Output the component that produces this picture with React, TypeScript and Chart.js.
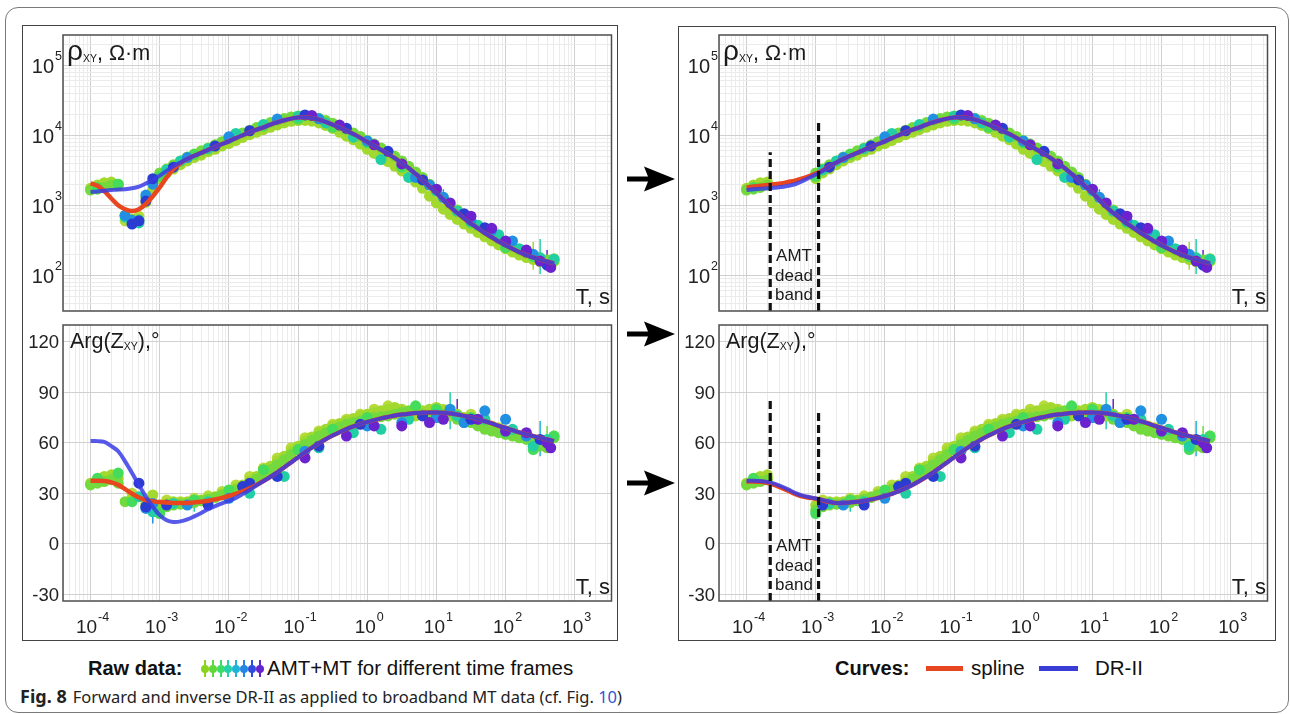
import React, { useEffect, useRef } from "react";
import { Chart, registerables } from "chart.js";
Chart.register(...registerables);

// ---------------- data ----------------
const rawPeriods = [
  1.0e-4, 1.26e-4, 1.58e-4, 2.0e-4, 2.51e-4, 3.16e-4, 3.98e-4, 5.01e-4, 6.31e-4, 7.94e-4,
  1.0e-3, 1.26e-3, 1.58e-3, 2.0e-3, 2.51e-3, 3.16e-3, 3.98e-3, 5.01e-3, 6.31e-3, 7.94e-3,
  1.0e-2, 1.26e-2, 1.58e-2, 2.0e-2, 2.51e-2, 3.16e-2, 3.98e-2, 5.01e-2, 6.31e-2, 7.94e-2,
  0.1, 0.126, 0.158, 0.2, 0.251, 0.316, 0.398, 0.501, 0.631, 0.794,
  1, 1.26, 1.58, 2, 2.51, 3.16, 3.98, 5.01, 6.31, 7.94,
  10, 12.6, 15.8, 20, 25.1, 31.6, 39.8, 50.1, 63.1, 79.4,
  100, 126, 158, 200, 251, 316, 398, 501,
];

// fitted curves (shared main part)
const mainRho = [
  1700, 1750, 1800, 1850, 1900, 1950, 2050, 2150, 2300, 2500,
  2750, 3100, 3600, 4100, 4600, 5100, 5600, 6200, 6800, 7500,
  8200, 9100, 10000, 11000, 12000, 13000, 14200, 15300, 16400, 17300,
  17900, 18000, 17600, 16700, 15500, 14200, 12900, 11600, 10400, 9200,
  8000, 7100, 6200, 5400, 4700, 4000, 3400, 2800, 2300, 1850,
  1500, 1200, 950, 780, 650, 550, 470, 400, 350, 305,
  270, 240, 215, 195, 180, 168, 158, 148,
];
const mainPhase = [
  37, 37, 36.8, 36, 34.5, 32.5, 30.5, 28.5, 27, 26,
  25.2, 24.6, 24.3, 24.2, 24.3, 24.6, 25, 25.6, 26.4, 27.3,
  28.4, 29.7, 31.2, 33, 35, 37.3, 39.8, 42.5, 45.4, 48.4,
  51.4, 54.3, 57.1, 59.7, 62.1, 64.3, 66.3, 68.1, 69.7, 71.1,
  72.4, 73.5, 74.5, 75.4, 76.2, 76.8, 77.3, 77.7, 77.9, 78,
  78, 77.8, 77.4, 76.8, 76, 75.1, 74, 72.8, 71.5, 70.1,
  68.8, 67.5, 66.2, 65, 64, 63, 62, 61,
];
// head (short-period) parts that differ between curves / panels
const splineRhoHeadL = [2050, 1900, 1600, 1250, 1000, 880, 830, 880, 1050, 1350, 1800, 2500, 3300, 4000];
const drRhoHeadL = [1550, 1580, 1620, 1650, 1680, 1700, 1750, 1850, 2050, 2300, 2650, 3100, 3600];
const splineRhoHeadR = [1800, 1850, 1900, 1950, 2000, 2050, 2150, 2250, 2400, 2600, 2850, 3150];
const drRhoHeadR = [1650, 1700, 1720, 1750, 1780, 1820, 1900, 2000, 2200, 2450, 2750, 3100];
const splinePhaseHeadL = [37.5, 37.5, 37.3, 36.5, 35, 32.5, 29.8, 27.5, 26, 25.2, 24.8, 24.5];
const drPhaseHeadL = [61, 61, 60.5, 58, 55, 49, 42, 35, 28, 22, 17, 14, 13, 13.3, 14.5, 16.3, 18.3, 20.5, 22.3, 24, 25.5, 27.3, 29.5, 32, 34.6];
const splinePhaseHeadR = [37, 37, 36.8, 36.2, 35, 33.3, 31.5, 29.6, 28.2, 27.4, 26.8, 25.8, 24.8];
const drPhaseHeadR = [37.5, 37.5, 37.3, 36.8, 35.8, 34.2, 32.3, 30.3, 28.8, 27.8, 27, 26, 25];

// raw data, time frames
const rawRhoA = [
  1750, 1950, 2100, 2150, 1900, null, 640, 600, null, 1700,
  2400, 2900, 3300, 3800, 4300, 4800, 5200, 5800, 6300, 7000,
  7600, 8400, 9300, 10200, 11000, 12000, 13000, 14000, 15000, 15800,
  16200, 16300, 15900, 15000, 13800, 12500, 11000, 9700, 8600, 7500,
  6300, 5500, 4800, 4200, 3600, 3100, 2600, 2150, 1750, 1350,
  1080, 880, 740, 630, 540, 470, 410, 355, 310, 272,
  240, 215, 195, 180, 168, 156, 150, 158,
];
const rawRhoB = [
  1650, 1700, 1800, 1950, 2000, 720, 560, null, 1300, 2100,
  2900, 3300, 3800, 4300, 4900, 5400, 6000, 6600, 7300, 8100,
  8900, 9800, 10800, 11800, 12900, 14000, 15200, 16300, 17400, 18300,
  18900, 19000, 18500, 17500, 16300, 14900, 13500, 12100, 10800, 9600,
  8400, 7500, 6600, 5700, 5000, 4300, 3600, 3000, 2500, 2000,
  1650, 1300, 1050, 860, 720, 600, 510, 440, 380, 330,
  290, 258, 230, 208, 192, 178, 166, 172,
];
const rawRhoC = [
  null, 1800, null, 2000, null, 600, null, 700, 1100, null,
  2600, null, 3500, null, 4500, null, 5400, null, 6600, null,
  8000, null, 9800, null, 11600, null, 13800, null, 15800, null,
  17000, null, 17200, null, 14800, null, 12300, null, 9800, null,
  7400, null, 5700, null, 4300, null, 3100, null, 2050, null,
  1300, null, 850, null, 600, null, 440, null, 330, null,
  258, null, 205, null, 174, null, 154, null,
];
const rawPhaseA = [
  36, 38, 40, 41, 39, null, 27, null, 24, 29,
  23, 24, 25, 24.5, 25, 25.5, 26, 27, 28, 29.5,
  31, 33, 35, 37.5, 40, 43, 46, 49, 52, 55,
  58, 61, 63.5, 66, 68, 70, 71.5, 73, 74.5, 76,
  77, 78, 79, 80, 81, 80, 78, 76, 79, 80,
  81, 79, 76, 77, 75, 73, 71, 72, 70, 68,
  67, 66, 64, 63, 62, 60, 58, 64,
];
const rawPhaseB = [
  35, 36, 37, 38, 36, 25, null, null, 22, null,
  20, 22, 23, 23.5, 24, 24.5, 25.5, 26.5, 27.5, 29,
  30.5, 32, 34, 36, 38.5, 41, 44, 47, 50, 53,
  56, 59, 61.5, 64, 66, 68, 69.5, 71, 72, 73,
  74, 75, 75.5, 76, 77, 78, 79, 80, 77, 76,
  75, 77, 78, 74, 72, 72, 70, 68, 67, 66,
  65, 64, 63, 62, 60, 58, 57, 63,
];
const rawPhaseC = [
  null, 37, null, 39, null, null, 30, null, null, 21,
  null, 26, null, 25, null, 27, null, 28.5, null, 31,
  null, 35, null, 40, null, 45, null, 51, null, 57,
  null, 63, null, 67, null, 71, null, 74, null, 77,
  null, 80, null, 82, null, 79, null, 81, null, 78,
  null, 80, null, 75, null, 77, null, 70, null, 69,
  null, 66, null, 63, null, 61, null, null,
];
const greenRhoT = [1.26e-4, 2.51e-4, 5.01e-4, 1.0e-3, 3.16e-3, 1.0e-2, 3.16e-2, 0.1, 0.316, 1, 3.16, 10, 31.6, 100, 251, 501];
const greenRho = [1800, 2000, 620, 2600, 5300, 9000, 13500, 17000, 13000, 7800, 3500, 1700, 560, 250, 185, 165];
const tealRhoT = [3.16e-4, 3.98e-4, 5.01e-4, 1.26e-3, 2.0e-3, 5.01e-3, 1.26e-2, 3.16e-2, 0.1, 0.251, 0.631, 1.58, 3.98, 10, 20, 39.8, 79.4, 158, 316, 501];
const tealRho = [680, 600, 560, 3200, 4300, 6400, 10600, 14300, 18600, 15000, 9400, 4500, 2500, 1600, 820, 520, 380, 240, 178, 170];
const skyRhoT = [3.16e-4, 3.98e-4, 6.31e-4, 7.94e-4, 2.51e-3, 1.0e-2, 5.01e-2, 0.2, 1, 5.01, 7.94, 12.6, 31.6, 63.1, 126, 251];
const skyRho = [720, 610, 1400, 2000, 4800, 9500, 17000, 17200, 8300, 2500, 1950, 1300, 600, 440, 310, 200];
const blueRhoT = [3.98e-4, 5.01e-4, 6.31e-4, 7.94e-4, 1.58e-3, 6.31e-3, 2.0e-2, 0.126, 0.501, 2, 6.31, 25.1, 50.1, 100, 200, 398];
const blueRho = [540, 600, 1150, 2400, 3500, 7000, 11600, 19500, 12600, 5900, 2300, 760, 480, 300, 215, 140];
const purpleRhoT = [0.158, 0.398, 1.26, 3.16, 10, 15.8, 31.6, 63.1, 100, 200, 316, 450];
const purpleRho = [19200, 14000, 7300, 3900, 1700, 1080, 700, 470, 310, 230, 160, 130];

const greenPhaseT = [1.26e-4, 2.51e-4, 3.98e-4, 1.0e-3, 3.16e-3, 1.0e-2, 3.16e-2, 0.1, 0.316, 1, 5.01, 10, 31.6, 100, 251, 501];
const greenPhase = [39, 42, 25, 18, 26, 32, 44, 56, 68, 75, 82, 80, 75, 66, 56, 64];
const tealPhaseT = [5.01e-4, 7.94e-4, 1.58e-3, 5.01e-3, 2.0e-2, 6.31e-2, 0.2, 0.631, 1.58, 3.98, 10, 20, 50.1, 126, 251, 398];
const tealPhase = [28, 19, 24, 25, 30, 40, 57, 66, 68, 74, 77, 76, 74, 68, 58, 62];
const skyPhaseT = [6.31e-4, 7.94e-4, 2.51e-3, 1.0e-2, 0.126, 1, 3.16, 10, 15.8, 25.1, 50.1, 100, 200];
const skyPhase = [21, 24, 23, 27, 55, 70, 72, 75, 80, 72, 79, 74, 64];
const bluePhaseT = [5.01e-4, 6.31e-4, 1.26e-3, 5.01e-3, 1.58e-2, 2.0e-2, 5.01e-2, 0.2, 0.794, 6.31, 31.6, 316];
const bluePhase = [36, 22, 23, 23, 34, 36, 40, 58, 71, 76, 74, 62];
const purplePhaseT = [0.126, 0.501, 1.26, 3.16, 7.94, 12.6, 39.8, 100, 200, 398, 450];
const purplePhase = [51, 64, 70, 70, 72, 74, 74, 67, 66, 60, 57];

// error bars (period, low, high)
const errRhoT = [12.6, 20, 251, 316, 398];
const errRhoLo = [950, 560, 120, 105, 120];
const errRhoHi = [1700, 1000, 300, 330, 230];
const errPhaseT = [7.94e-4, 3.16e-3, 0.501, 15.8, 20, 316, 398];
const errPhaseLo = [12, 19, 62, 68, 72, 52, 58];
const errPhaseHi = [32, 30, 73, 90, 86, 73, 70];

// axes
const X_MIN = 4.0e-5;
const X_MAX = 3.4e3;
const RHO_MIN = 31;
const RHO_MAX = 2.7e5;
const PHASE_MIN = -34;
const PHASE_MAX = 130;
const xTickExponents = [-4, -3, -2, -1, 0, 1, 2, 3];
const rhoTickExponents = [2, 3, 4, 5];
const phaseTicks = [-30, 0, 30, 60, 90, 120];

// AMT dead band (right panels)
const deadBand = [2.2e-4, 1.1e-3];
const deadBandTopRho = [5700, 15500];
const deadBandTopPhase = [87, 78];
const rightKeepMax = 2.0e-4;
const rightKeepMin = 1.0e-3;

// ---------------- styles ----------------
const COL = {
  yellowgreen: "#a3d82e",
  lime: "#74d93c",
  olive: "#b5dc3a",
  green: "#44dc5a",
  teal: "#22cfa5",
  sky: "#2290e2",
  blue: "#2b3cd3",
  purple: "#6b22cf",
  spline: "#e8461f",
  dr: "rgba(58,60,228,0.85)",
};
const errColors = ["#2290e2", "#22cfa5", "#a3d82e", "#22cfa5", "#6b22cf", "#1fb3d8", "#74d93c"];
const legendIconColors = ["#88d41e", "#5fd83a", "#3cdc68", "#22d2a6", "#1fb3d8", "#2486e4", "#2f4ddd", "#6424cf"];
const FONT = '"Liberation Sans", Arial, Helvetica, sans-serif';
const PLOT_W = 550;
const PLOT_H = 276;

type Pt = { x: number; y: number | null };
function pts(t: number[], v: (number | null)[], keep?: (x: number) => boolean): Pt[] {
  const out: Pt[] = [];
  for (let i = 0; i < t.length; i++) {
    const y = v[i];
    if (y === null || y === undefined) continue;
    if (keep && !keep(t[i])) continue;
    out.push({ x: t[i], y });
  }
  return out;
}
function curve(head: number[], main: number[]): Pt[] {
  return rawPeriods.map((t, i) => ({ x: t, y: i < head.length ? head[i] : main[i] }));
}
function logGrid(min: number, max: number): number[] {
  const out: number[] = [];
  for (let e = Math.floor(Math.log10(min)); e <= Math.ceil(Math.log10(max)); e++) {
    for (let m = 1; m <= 9; m++) {
      const v = m * Math.pow(10, e);
      if (v >= min * 0.999999 && v <= max * 1.000001) out.push(v);
    }
  }
  return out;
}
function isMajor(v: number) {
  const l = Math.log10(v);
  return Math.abs(l - Math.round(l)) < 1e-6;
}

function drawPow(ctx: CanvasRenderingContext2D, exp: string, x: number, baseY: number, align: "center" | "right", size: number, supSize: number, supRise: number) {
  ctx.font = `${size}px ${FONT}`;
  const w1 = ctx.measureText("10").width;
  ctx.font = `${supSize}px ${FONT}`;
  const w2 = ctx.measureText(exp).width;
  const left = align === "right" ? x - w1 - w2 - 1 : x - (w1 + w2 + 1) / 2;
  ctx.textAlign = "left";
  ctx.textBaseline = "alphabetic";
  ctx.font = `${size}px ${FONT}`;
  ctx.fillText("10", left, baseY);
  ctx.font = `${supSize}px ${FONT}`;
  ctx.fillText(exp, left + w1 + 1, baseY - supRise);
}

type PanelProps = { kind: "rho" | "phase"; side: "L" | "R"; left: number; top: number; showX: boolean };

const PAD_L = 52;
const PAD_T = 8;
const PAD_R = 4;

function Panel({ kind, side, left, top, showX }: PanelProps) {
  const ref = useRef<HTMLCanvasElement | null>(null);
  const padB = showX ? 40 : 6;
  const W = PLOT_W + PAD_L + PAD_R;
  const H = PLOT_H + PAD_T + padB;

  useEffect(() => {
    const canvas = ref.current;
    if (!canvas) return;
    const keep = side === "R" ? (t: number) => t <= rightKeepMax || t >= rightKeepMin : undefined;
    const rho = kind === "rho";
    const rawList = rho
      ? [
          { c: COL.olive, d: pts(rawPeriods, rawRhoC, keep) },
          { c: COL.yellowgreen, d: pts(rawPeriods, rawRhoA, keep) },
          { c: COL.lime, d: pts(rawPeriods, rawRhoB, keep) },
          { c: COL.green, d: pts(greenRhoT, greenRho, keep) },
          { c: COL.teal, d: pts(tealRhoT, tealRho, keep) },
          { c: COL.sky, d: pts(skyRhoT, skyRho, keep) },
          { c: COL.blue, d: pts(blueRhoT, blueRho, keep) },
          { c: COL.purple, d: pts(purpleRhoT, purpleRho, keep) },
        ]
      : [
          { c: COL.olive, d: pts(rawPeriods, rawPhaseC, keep) },
          { c: COL.yellowgreen, d: pts(rawPeriods, rawPhaseA, keep) },
          { c: COL.lime, d: pts(rawPeriods, rawPhaseB, keep) },
          { c: COL.green, d: pts(greenPhaseT, greenPhase, keep) },
          { c: COL.teal, d: pts(tealPhaseT, tealPhase, keep) },
          { c: COL.sky, d: pts(skyPhaseT, skyPhase, keep) },
          { c: COL.blue, d: pts(bluePhaseT, bluePhase, keep) },
          { c: COL.purple, d: pts(purplePhaseT, purplePhase, keep) },
        ];
    const main = rho ? mainRho : mainPhase;
    const splineHead = rho ? (side === "L" ? splineRhoHeadL : splineRhoHeadR) : side === "L" ? splinePhaseHeadL : splinePhaseHeadR;
    const drHead = rho ? (side === "L" ? drRhoHeadL : drRhoHeadR) : side === "L" ? drPhaseHeadL : drPhaseHeadR;
    const yMin = rho ? RHO_MIN : PHASE_MIN;
    const eT = rho ? errRhoT : errPhaseT;
    const eLo = rho ? errRhoLo : errPhaseLo;
    const eHi = rho ? errRhoHi : errPhaseHi;

    const datasets: any[] = [];
    eT.forEach((t, i) => {
      if (keep && !keep(t)) return;
      datasets.push({
        data: [
          { x: t, y: eLo[i] },
          { x: t, y: eHi[i] },
        ],
        showLine: true,
        pointRadius: 0,
        borderColor: errColors[i % errColors.length],
        borderWidth: 1.5,
        order: 40,
      });
    });
    rawList.forEach((s, i) => {
      datasets.push({
        data: s.d,
        showLine: false,
        pointRadius: 5.5,
        pointBorderWidth: 0,
        pointBackgroundColor: s.c,
        backgroundColor: s.c,
        borderColor: s.c,
        order: 30 - i,
      });
    });
    datasets.push({
      data: curve(splineHead, main),
      showLine: true,
      pointRadius: 0,
      borderColor: COL.spline,
      borderWidth: 4.5,
      tension: 0.35,
      order: 3,
    });
    datasets.push({
      data: curve(drHead, main),
      showLine: true,
      pointRadius: 0,
      borderColor: COL.dr,
      borderWidth: 4,
      tension: 0.35,
      order: 2,
    });
    if (side === "R") {
      const tops = rho ? deadBandTopRho : deadBandTopPhase;
      deadBand.forEach((t, i) => {
        datasets.push({
          data: [
            { x: t, y: yMin },
            { x: t, y: tops[i] },
          ],
          showLine: true,
          pointRadius: 0,
          borderColor: "#111",
          borderWidth: 3.2,
          borderDash: [8, 4],
          order: 1,
        });
      });
    }

    const gridColor = (c: any) => (c.tick && isMajor(c.tick.value) ? "#d0d0d0" : "#ebebeb");

    const labelPlugin = {
      id: "labels" + kind + side,
      afterDraw(chart: any) {
        const ctx: CanvasRenderingContext2D = chart.ctx;
        const a = chart.chartArea;
        const xs = chart.scales.x;
        const ys = chart.scales.y;
        ctx.save();
        ctx.strokeStyle = "#4d4d4d";
        ctx.lineWidth = 1.5;
        ctx.strokeRect(a.left, a.top, a.right - a.left, a.bottom - a.top);
        ctx.fillStyle = "#222";
        if (rho) {
          rhoTickExponents.forEach((e) => {
            const y = ys.getPixelForValue(Math.pow(10, e));
            drawPow(ctx, String(e), a.left - 1, y + 8, "right", 20, 12.5, 13);
          });
        } else {
          ctx.font = `18.5px ${FONT}`;
          ctx.textAlign = "right";
          ctx.textBaseline = "alphabetic";
          phaseTicks.forEach((v) => {
            const y = ys.getPixelForValue(v);
            ctx.fillText(String(v), a.left - 4, y + 6.5);
          });
        }
        if (showX) {
          xTickExponents.forEach((e) => {
            const x = xs.getPixelForValue(Math.pow(10, e));
            drawPow(ctx, String(e), x + 2, a.bottom + 32, "center", 19, 12.5, 12);
          });
        }
        ctx.restore();
      },
    };

    const chart = new Chart(canvas, {
      type: "scatter",
      data: { datasets },
      options: {
        animation: false,
        responsive: false,
        maintainAspectRatio: false,
        devicePixelRatio: 1,
        events: [],
        layout: { padding: { left: PAD_L, top: PAD_T, right: PAD_R, bottom: padB } },
        plugins: { legend: { display: false }, tooltip: { enabled: false } },
        scales: {
          x: {
            type: "logarithmic",
            min: X_MIN,
            max: X_MAX,
            ticks: { display: false },
            grid: { drawTicks: false, color: gridColor, lineWidth: 1 },
            border: { display: false },
            afterBuildTicks: (s: any) => {
              s.ticks = logGrid(X_MIN, X_MAX).map((v) => ({ value: v }));
            },
          },
          y: rho
            ? {
                type: "logarithmic",
                min: RHO_MIN,
                max: RHO_MAX,
                ticks: { display: false },
                grid: { drawTicks: false, color: gridColor, lineWidth: 1 },
                border: { display: false },
                afterBuildTicks: (s: any) => {
                  s.ticks = logGrid(RHO_MIN, RHO_MAX).map((v) => ({ value: v }));
                },
              }
            : {
                type: "linear",
                min: PHASE_MIN,
                max: PHASE_MAX,
                ticks: { display: false },
                grid: { drawTicks: false, color: "#d0d0d0", lineWidth: 1 },
                border: { display: false },
                afterBuildTicks: (s: any) => {
                  s.ticks = phaseTicks.map((v) => ({ value: v }));
                },
              },
        },
      } as any,
      plugins: [labelPlugin],
    });
    return () => chart.destroy();
  }, [kind, side, showX]);

  const textBase: React.CSSProperties = { position: "absolute", fontFamily: FONT, color: "#1a1a1a", whiteSpace: "nowrap" };
  return (
    <>
      <canvas
        ref={ref}
        width={W}
        height={H}
        style={{ position: "absolute", left: left - PAD_L, top: top - PAD_T, width: W, height: H }}
      />
      {kind === "rho" ? (
        <div style={{ ...textBase, left: left + 4, top: top + 2, fontSize: 21.5, lineHeight: "28px" }}>
          <span style={{ fontSize: 28 }}>ρ</span>
          <span style={{ fontSize: 10.5, verticalAlign: "-2px" }}>XY</span>, Ω·m
        </div>
      ) : (
        <div style={{ ...textBase, left: left + 7, top: top + 3, fontSize: 21.5, lineHeight: "26px" }}>
          Arg(Z<span style={{ fontSize: 10.5, verticalAlign: "-2px" }}>XY</span>),°
        </div>
      )}
      <div style={{ ...textBase, left: left, width: PLOT_W - 3, textAlign: "right", top: top + PLOT_H - 25, fontSize: 22, lineHeight: "22px" }}>
        T, s
      </div>
      {side === "R" && (
        <div style={{ ...textBase, left: left + 45, width: 60, textAlign: "center", top: top + 211, fontSize: 17, lineHeight: "19.5px" }}>
          AMT
          <br />
          dead
          <br />
          band
        </div>
      )}
    </>
  );
}

function Arrow({ cy }: { cy: number }) {
  const p = [
    [627, cy - 2.5],
    [648, cy - 2.5],
    [644, cy - 12.5],
    [675, cy],
    [644, cy + 12.5],
    [648, cy + 2.5],
    [627, cy + 2.5],
  ]
    .map((q) => q.join(","))
    .join(" ");
  return (
    <svg style={{ position: "absolute", left: 0, top: 0, overflow: "visible" }} width={1} height={1}>
      <polygon points={p} fill="#000" />
    </svg>
  );
}

export default function App() {
  const box = (l: number, t: number, w: number, h: number): React.CSSProperties => ({
    position: "absolute",
    left: l,
    top: t,
    width: w,
    height: h,
    border: "1.5px solid #444",
    boxSizing: "border-box",
  });
  return (
    <div style={{ position: "absolute", left: 0, top: 0, width: 1290, height: 714, background: "#fff", overflow: "hidden", fontFamily: FONT }}>
      <div
        style={{
          position: "absolute",
          left: 5,
          top: 7,
          width: 1284,
          height: 706,
          border: "1.5px solid #7a7a7a",
          borderRadius: 13,
          boxSizing: "border-box",
        }}
      />
      <div style={box(22, 25, 596, 616)} />
      <div style={box(678, 26, 598, 615)} />

      <Panel kind="rho" side="L" left={63} top={35} showX={false} />
      <Panel kind="phase" side="L" left={63} top={325} showX={true} />
      <Panel kind="rho" side="R" left={719} top={35} showX={false} />
      <Panel kind="phase" side="R" left={719} top={325} showX={true} />

      <Arrow cy={179} />
      <Arrow cy={334} />
      <Arrow cy={483} />

      {/* legends */}
      <div style={{ position: "absolute", left: 88, top: 656, font: `bold 20px ${FONT}`, lineHeight: "24px", color: "#111" }}>Raw data:</div>
      {legendIconColors.map((c, i) => (
        <React.Fragment key={i}>
          <div style={{ position: "absolute", left: 204 + i * 7.8, top: 660, width: 2, height: 17, background: c }} />
          <div style={{ position: "absolute", left: 201 + i * 7.8, top: 664.5, width: 8, height: 8, borderRadius: 4, background: c }} />
        </React.Fragment>
      ))}
      <div style={{ position: "absolute", left: 267, top: 656, font: `20.5px ${FONT}`, lineHeight: "24px", color: "#111", whiteSpace: "nowrap" }}>
        AMT+MT for different time frames
      </div>
      <div style={{ position: "absolute", left: 835, top: 656, font: `bold 20px ${FONT}`, lineHeight: "24px", color: "#111" }}>Curves:</div>
      <div style={{ position: "absolute", left: 926, top: 666, width: 37, height: 5, background: COL.spline }} />
      <div style={{ position: "absolute", left: 971, top: 656, font: `20.5px ${FONT}`, lineHeight: "24px", color: "#111" }}>spline</div>
      <div style={{ position: "absolute", left: 1039, top: 666, width: 39, height: 5, background: "#3a3cd6" }} />
      <div style={{ position: "absolute", left: 1095, top: 656, font: `20.5px ${FONT}`, lineHeight: "24px", color: "#111" }}>DR-II</div>

      {/* caption */}
      <div style={{ position: "absolute", left: 20, top: 684, fontFamily: '"Noto Sans", sans-serif', fontSize: 16.5, lineHeight: "24px", color: "#222", whiteSpace: "nowrap" }}>
        <span style={{ fontWeight: 700, fontSize: 18 }}>Fig. 8</span>
        <span style={{ marginLeft: 6 }}>
          Forward and inverse DR-II as applied to broadband MT data (cf. Fig. <span style={{ color: "#2f55d4" }}>10</span>)
        </span>
      </div>
    </div>
  );
}
